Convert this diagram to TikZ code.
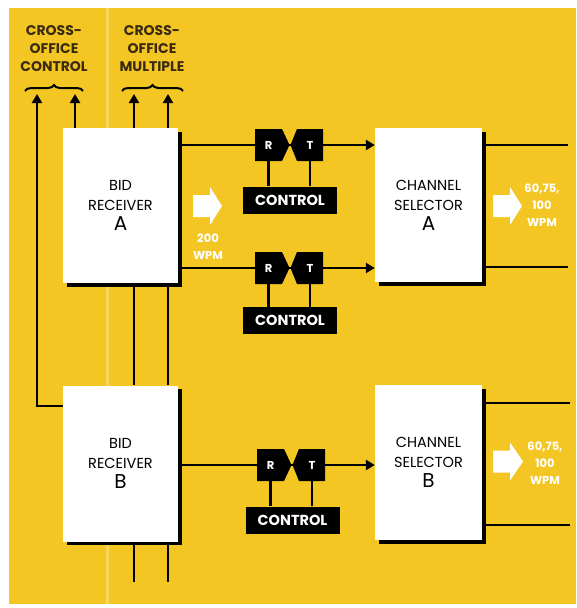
\documentclass[tikz,border=0pt]{standalone}
\usepackage{fontspec}
\setmainfont{Poppins}
\usetikzlibrary{arrows.meta,decorations.pathreplacing,shadows,backgrounds}
\definecolor{bgyellow}{RGB}{244,198,36}
\definecolor{foldyellow}{RGB}{248,214,90}
\definecolor{labelbrown}{RGB}{58,42,14}
\newcommand\blockarrow[3]{%
  \fill[white] (#1,#2-11) -- (#1+17,#2-11) -- (#1+17,#2-19) -- (#1+#3,#2)
    -- (#1+17,#2+19) -- (#1+17,#2+11) -- (#1,#2+11) -- cycle;}
\begin{document}
\begin{tikzpicture}[x=1pt,y=-1pt,
  conn/.style={line width=2.2pt,black},
  arr/.style={conn,-{Triangle[length=9pt,width=10pt]}},
  unit/.style={fill=white, align=center, inner sep=0pt,
    font=\fontsize{14.5}{20}\selectfont,
    drop shadow={shadow xshift=3.5pt, shadow yshift=-3.5pt, fill=black, opacity=1}},
  ctl/.style={fill=black, text=white, minimum width=94pt, minimum height=27pt,
    inner sep=0pt, font=\bfseries\fontsize{14.5}{14.5}\selectfont},
  rt/.style={text=white, inner sep=0pt, font=\bfseries\fontsize{11.5}{11.5}\selectfont},
  rtfill/.style={fill=black},
  toplabel/.style={text=labelbrown, align=center, inner sep=0pt,
    font=\bfseries\fontsize{14}{18}\selectfont},
  wpm/.style={text=white, align=center, inner sep=0pt,
    font=\bfseries\fontsize{11.5}{17}\selectfont},
  brace/.style={decorate, decoration={brace, amplitude=6pt}, line width=2pt}
]
\useasboundingbox (0,0) rectangle (576,608);

% ---------- units ----------
\node[unit, minimum width=115pt, minimum height=155pt] (bidA) at (120.5,205.5)
  {BID\\RECEIVER\\{\fontsize{20}{20}\selectfont A}};
\node[unit, minimum width=115pt, minimum height=156pt] (bidB) at (120.5,463.5)
  {BID\\RECEIVER\\{\fontsize{20}{20}\selectfont B}};
\node[unit, minimum width=107pt, minimum height=154pt] (chA) at (428.5,205)
  {CHANNEL\\SELECTOR\\{\fontsize{20}{20}\selectfont A}};
\node[unit, minimum width=107pt, minimum height=155pt] (chB) at (428.5,462.5)
  {CHANNEL\\SELECTOR\\{\fontsize{20}{20}\selectfont B}};

% ---------- R/T pairs ----------
\foreach \n/\yc/\dx in {1/145/0, 2/268/0, 3/465/2} {
  \begin{scope}[xshift=\dx pt]
    \fill[rtfill] (255,\yc-16) -- (282,\yc-16) -- (289.5,\yc) -- (282,\yc+16)
      -- (255,\yc+16) -- cycle;
    \fill[rtfill] (290.5,\yc) -- (297,\yc-16) -- (323,\yc-16) -- (323,\yc+16)
      -- (297,\yc+16) -- cycle;
    \node[rt] (R\n) at (268.5,\yc) {R};
    \node[rt] (T\n) at (310,\yc) {T};
  \end{scope}
}
\node[ctl] (C1) at (290,200) {CONTROL};
\node[ctl] (C2) at (290,320.5) {CONTROL};
\node[ctl] (C3) at (292.5,520) {CONTROL};

% ---------- labels ----------
\node[toplabel] (lblC) at (54,49) {CROSS-\\OFFICE\\CONTROL};
\node[toplabel] (lblM) at (152,49) {CROSS-\\OFFICE\\MULTIPLE};
\draw[brace] (25,91) -- (83,91);
\draw[brace] (122,91) -- (183,91);

% ---------- speed arrows ----------
\blockarrow{193}{206}{29}
\node[wpm] (w200) at (208,247) {200\\WPM};
\blockarrow{493}{206}{29}
\node[wpm] (wA) at (542,205) {60,75,\\100\\WPM};
\blockarrow{493}{461.5}{30}
\node[wpm] (wB) at (545,463) {60,75,\\100\\WPM};

% ---------- background and connectors ----------
\begin{scope}[on background layer]
  \fill[white] (0,0) rectangle (576,608);
  \fill[bgyellow] (9,8) rectangle (576,604);
  \fill[foldyellow] (106,8) rectangle (108.5,604);

  \coordinate (ccL) at (37,94);
  \coordinate (ccR) at (75,94);
  \coordinate (cmL) at (134,94);
  \coordinate (cmR) at (168,94);
  \coordinate (ccBend) at (37,406);
  \coordinate (botL) at (134,582);
  \coordinate (botR) at (168,582);
  \coordinate (oA1) at (568,145);
  \coordinate (oA2) at (568,267);
  \coordinate (oB1) at (570,403);
  \coordinate (oB2) at (570,525);

  \draw[arr] (bidB.west |- ccBend) -- (ccBend) -- (ccL);
  \draw[arr] (bidA.north -| ccR) -- (ccR);
  \draw[arr] (bidA.north -| cmL) -- (cmL);
  \draw[arr] (bidA.north -| cmR) -- (cmR);
  \draw[conn] (bidA.south -| cmL) -- (bidB.north -| cmL);
  \draw[conn] (bidA.south -| cmR) -- (bidB.north -| cmR);
  \draw[conn] (bidB.south -| botL) -- (botL);
  \draw[conn] (bidB.south -| botR) -- (botR);

  \draw[arr] (bidA.east |- R1) -- (chA.west |- R1);
  \draw[arr] (bidA.east |- R2) -- (chA.west |- R2);
  \draw[arr] (bidB.east |- R3) -- (chB.west |- R3);
  \foreach \n in {1,2,3} {
    \draw[conn] (R\n) -- (R\n |- C\n.north);
    \draw[conn] (T\n) -- (T\n |- C\n.north);
  }
  \draw[conn] (chA.east |- oA1) -- (oA1);
  \draw[conn] (chA.east |- oA2) -- (oA2);
  \draw[conn] (chB.east |- oB1) -- (oB1);
  \draw[conn] (chB.east |- oB2) -- (oB2);
\end{scope}
\end{tikzpicture}
\end{document}
